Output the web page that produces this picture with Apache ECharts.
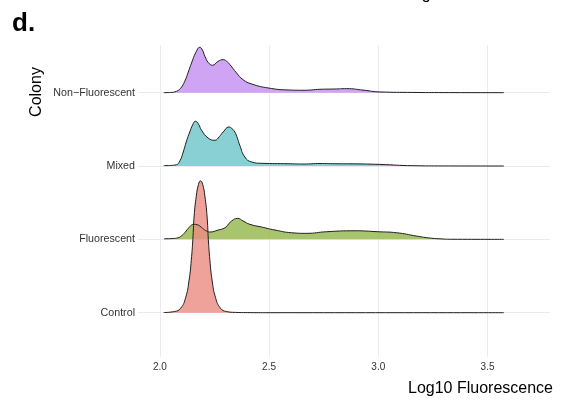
<!DOCTYPE html>
<html>
<head>
<meta charset="utf-8">
<script src="https://cdn.jsdelivr.net/npm/echarts@6/dist/echarts.min.js"></script>
<style>
  html, body { margin: 0; padding: 0; background: #ffffff; }
  #chart { width: 562px; height: 405px; }
</style>
</head>
<body>
<div id="chart"></div>
<script>
// Ridge rows, bottom to top
const colonies = ['Control', 'Fluorescent', 'Mixed', 'Non\u2212Fluorescent'];
const xTicks = [2.0, 2.5, 3.0, 3.5];

// Scaled density curves (log10 fluorescence, ridge height)
const controlX = [2.018, 2.067, 2.095, 2.118, 2.134, 2.144, 2.151, 2.157, 2.167, 2.177, 2.186, 2.196, 2.206, 2.216, 2.222, 2.229, 2.239, 2.255, 2.278, 2.305, 2.346, 2.40, 2.50, 3.575];
const controlY = [0.002, 0.016, 0.060, 0.205, 0.446, 0.719, 0.996, 1.319, 1.592, 1.750, 1.797, 1.750, 1.592, 1.319, 0.996, 0.719, 0.446, 0.205, 0.060, 0.016, 0.004, 0.001, 0, 0];

const fluorX = [2.020, 2.060, 2.084, 2.100, 2.114, 2.137, 2.157, 2.170, 2.183, 2.200, 2.214, 2.229, 2.267, 2.298, 2.315, 2.328, 2.356, 2.381, 2.412, 2.466, 2.527, 2.603, 2.672, 2.763, 2.893, 2.998, 3.084, 3.175, 3.230, 3.282, 3.342, 3.575];
const fluorY = [0.008, 0.012, 0.022, 0.050, 0.090, 0.172, 0.205, 0.200, 0.181, 0.140, 0.113, 0.100, 0.127, 0.158, 0.210, 0.250, 0.286, 0.250, 0.205, 0.168, 0.127, 0.090, 0.082, 0.104, 0.117, 0.104, 0.090, 0.045, 0.020, 0.007, 0.001, 0];

const mixedX = [2.018, 2.050, 2.076, 2.092, 2.107, 2.122, 2.137, 2.150, 2.163, 2.177, 2.191, 2.221, 2.252, 2.272, 2.290, 2.316, 2.330, 2.343, 2.355, 2.366, 2.389, 2.420, 2.466, 2.587, 2.660, 2.733, 2.800, 2.870, 3.007, 3.158, 3.300, 3.575];
const mixedY = [0.005, 0.008, 0.018, 0.070, 0.191, 0.340, 0.464, 0.560, 0.610, 0.570, 0.487, 0.382, 0.351, 0.400, 0.464, 0.532, 0.510, 0.464, 0.380, 0.282, 0.123, 0.055, 0.037, 0.031, 0.027, 0.034, 0.031, 0.030, 0.022, 0.004, 0.001, 0];

const nonFluorX = [2.018, 2.050, 2.076, 2.095, 2.114, 2.130, 2.145, 2.165, 2.183, 2.195, 2.206, 2.222, 2.241, 2.267, 2.290, 2.305, 2.321, 2.351, 2.381, 2.420, 2.496, 2.587, 2.660, 2.733, 2.800, 2.855, 2.930, 3.007, 3.158, 3.300, 3.575];
const nonFluorY = [0, 0.003, 0.019, 0.060, 0.156, 0.280, 0.405, 0.550, 0.619, 0.580, 0.497, 0.410, 0.374, 0.428, 0.450, 0.430, 0.382, 0.269, 0.177, 0.119, 0.064, 0.037, 0.033, 0.046, 0.050, 0.055, 0.035, 0.010, 0.003, 0.001, 0];

const ridgeFills = [
  'rgba(235,139,129,0.8)',
  'rgba(146,181,71,0.8)',
  'rgba(106,196,201,0.8)',
  'rgba(196,141,241,0.8)'
];

const FONT = "'Liberation Sans', Arial, Helvetica, sans-serif";

function ridge(xs, ys, row) {
  return {
    type: 'line',
    data: xs.map((x, i) => [x, row + ys[i]]),
    smooth: 0.5,
    showSymbol: false,
    silent: true,
    lineStyle: { color: '#1f1f1f', width: 1 },
    areaStyle: { color: ridgeFills[row], origin: row, opacity: 1 },
    clip: false
  };
}

const chart = echarts.init(document.getElementById('chart'), null, { renderer: 'canvas' });

chart.setOption({
  animation: false,
  backgroundColor: '#ffffff',
  grid: { left: 138, right: 12, top: 45, bottom: 48.3, containLabel: false },
  xAxis: {
    type: 'value',
    min: 1.9,
    max: 3.786,
    axisLine: { show: false },
    axisTick: { show: false, customValues: xTicks },
    axisLabel: {
      customValues: xTicks,
      formatter: v => v.toFixed(1),
      fontFamily: FONT,
      fontSize: 10,
      color: '#333333',
      margin: 6
    },
    splitLine: { show: true, lineStyle: { color: '#ebebeb', width: 1 } }
  },
  yAxis: {
    type: 'value',
    min: -0.6,
    max: 3.65,
    axisLine: { show: false },
    axisTick: { show: false, customValues: [0, 1, 2, 3] },
    axisLabel: {
      customValues: [0, 1, 2, 3],
      formatter: v => colonies[Math.round(v)],
      fontFamily: FONT,
      fontSize: 10.7,
      color: '#333333',
      margin: 3,
      padding: [0, 0, 6, 0]
    },
    splitLine: { show: true, lineStyle: { color: '#ebebeb', width: 1 } }
  },
  series: [
    ridge(nonFluorX, nonFluorY, 3),
    ridge(mixedX, mixedY, 2),
    ridge(fluorX, fluorY, 1),
    ridge(controlX, controlY, 0)
  ],
  graphic: [
    {
      type: 'text', x: 12, y: 24,
      style: { text: 'd.', font: 'bold 26px ' + FONT, fill: '#000', align: 'left', verticalAlign: 'middle' }
    },
    {
      type: 'text', x: 549, y: -5.8,
      style: { text: 'Log10 Fluorescence', font: '16px ' + FONT, fill: '#000', align: 'right', verticalAlign: 'middle' }
    },
    {
      type: 'text', x: 37, y: 92, rotation: Math.PI / 2,
      style: { text: 'Colony', font: '16px ' + FONT, fill: '#000', align: 'center', verticalAlign: 'middle' }
    },
    {
      type: 'text', x: 553, y: 388.3,
      style: { text: 'Log10 Fluorescence', font: '16px ' + FONT, fill: '#000', align: 'right', verticalAlign: 'middle' }
    }
  ]
});
</script>
</body>
</html>
